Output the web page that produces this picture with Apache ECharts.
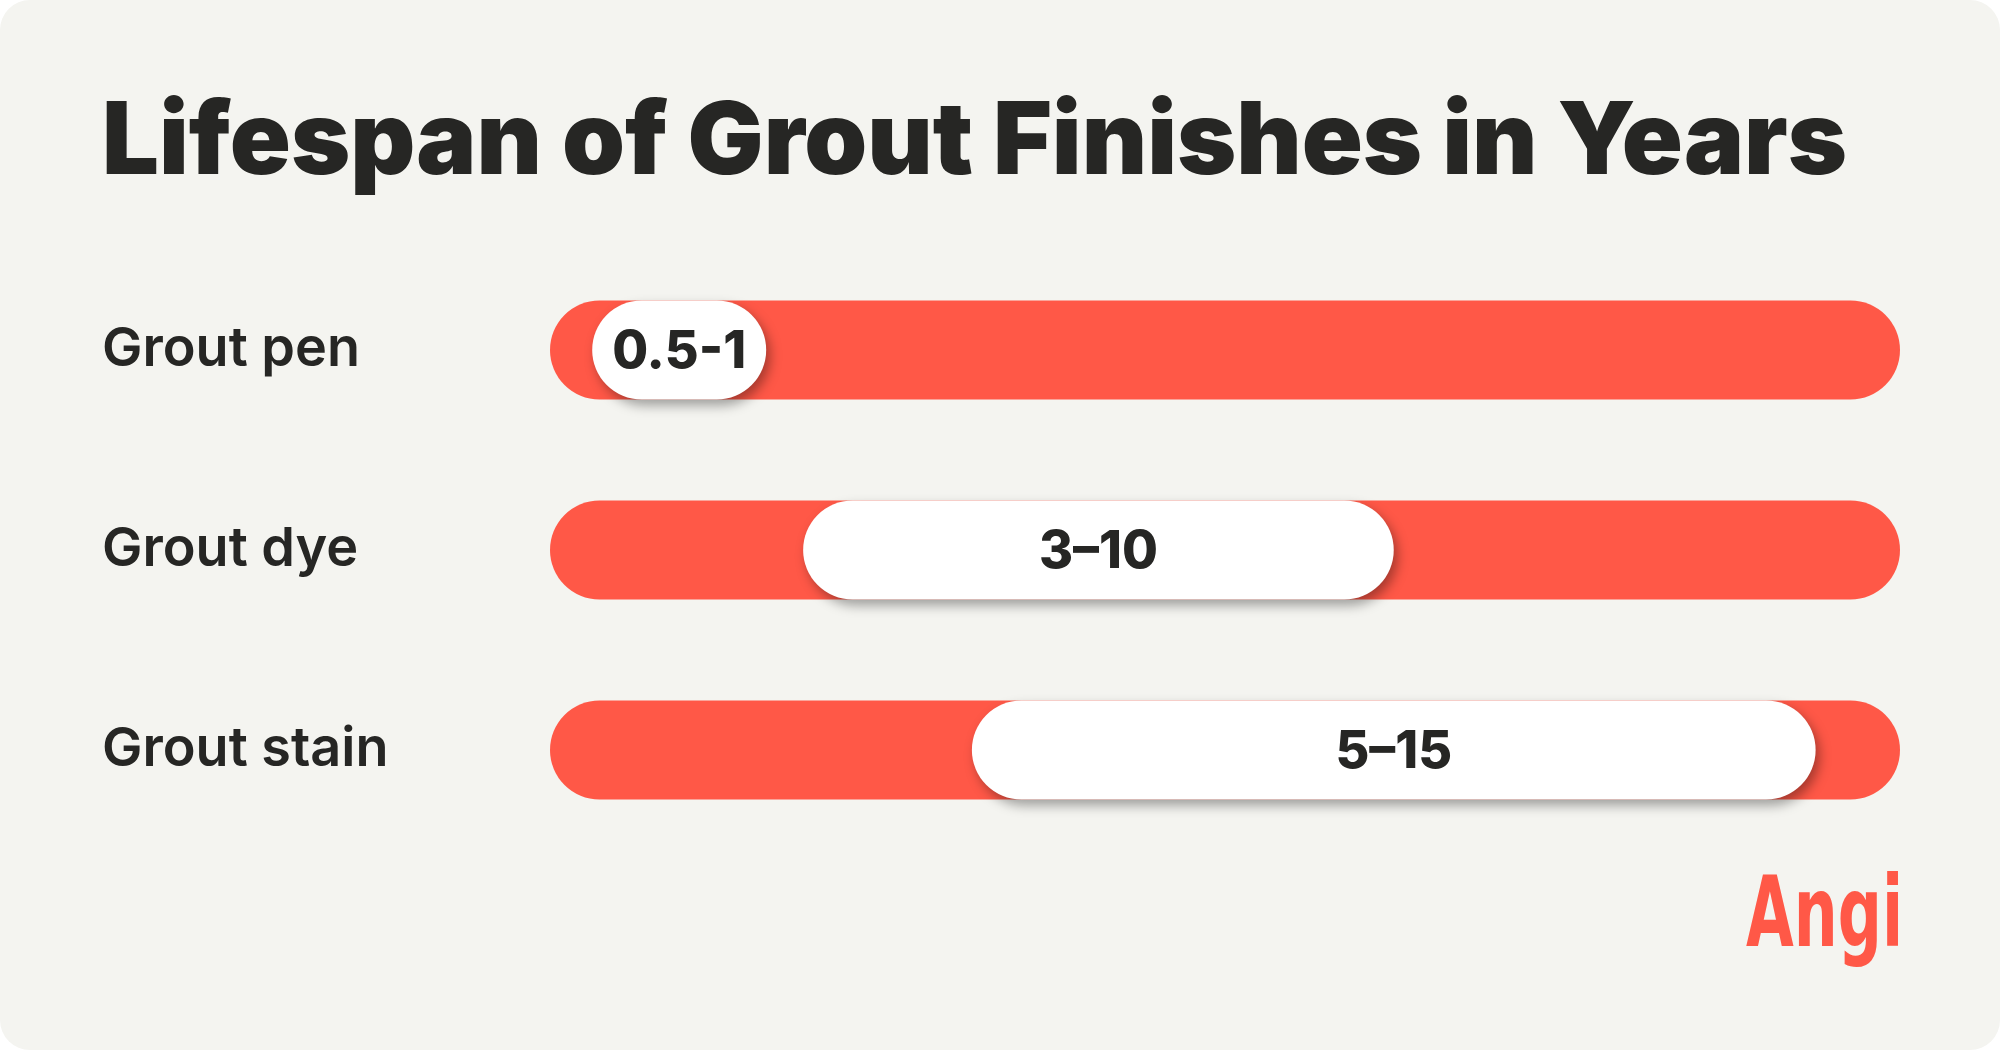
<!DOCTYPE html>
<html>
<head>
<meta charset="utf-8">
<script src="https://cdn.jsdelivr.net/npm/echarts@6/dist/echarts.min.js"></script>
<style>
html,body{margin:0;padding:0;background:#ffffff;}
#chart{width:2000px;height:1050px;}
</style>
</head>
<body>
<div id="chart"></div>
<script>
// ---- data ----
const categories = ['Grout pen', 'Grout dye', 'Grout stain'];
const lowValues = [0.5, 3, 5];
const highValues = [1, 10, 15];
const rangeLabels = ['0.5-1', '3–10', '5–15'];
const axisMax = 16;

const RED = '#FF5847';
const DARK = '#262624';
const BG = '#F4F4F0';

const chart = echarts.init(document.getElementById('chart'));

const seriesData = categories.map((c, i) => [lowValues[i], highValues[i], i]);

const option = {
  backgroundColor: 'transparent',
  animation: false,
  graphic: [
    { type: 'rect', z: -10, shape: { x: 0, y: 0, width: 2000, height: 1050, r: 30 }, style: { fill: BG } },
    { type: 'text', left: 102, top: 93, style: { text: 'Lifespan of Grout Finishes in Years', font: '900 100.8px Inter', fill: DARK } },
    { type: 'text', x: 1746, y: 872, scaleX: 0.63, style: { text: 'Angi', font: 'bold 98px "DejaVu Sans"', fill: RED, align: 'left', verticalAlign: 'top' } }
  ],
  grid: { left: 550, right: 100, top: 250, bottom: 200 },
  xAxis: { type: 'value', min: 0, max: axisMax, show: false },
  yAxis: {
    type: 'category', data: categories, inverse: true,
    axisLine: { show: false }, axisTick: { show: false }, splitLine: { show: false },
    axisLabel: { align: 'left', margin: 448, fontFamily: 'Inter', fontWeight: 600, fontSize: 54, color: DARK, padding: [8, 0, 0, 0] }
  },
  series: [{
    type: 'custom',
    data: seriesData,
    encode: { x: [0, 1], y: 2 },
    renderItem: function (params, api) {
      const idx = api.value(2);
      const h = 99;
      const t0 = api.coord([0, idx]);
      const t1 = api.coord([axisMax, idx]);
      const p0 = api.coord([api.value(0), idx]);
      const p1 = api.coord([api.value(1), idx]);
      const cy = t0[1];
      let w = Math.max(p1[0] - p0[0], 174);
      const x0 = p0[0];
      return {
        type: 'group',
        children: [
          { type: 'rect', shape: { x: t0[0], y: cy - h / 2, width: t1[0] - t0[0], height: h, r: h / 2 }, style: { fill: RED } },
          { type: 'rect', shape: { x: x0, y: cy - h / 2, width: w, height: h, r: h / 2 },
            style: { fill: '#ffffff', shadowColor: 'rgba(0,0,0,0.35)', shadowBlur: 12, shadowOffsetX: 4, shadowOffsetY: 6 } },
          { type: 'text', x: x0 + w / 2, y: cy + 2,
            style: { text: rangeLabels[params.dataIndex], font: '800 52px Inter', fill: DARK, align: 'center', verticalAlign: 'middle' } }
        ]
      };
    }
  }]
};
chart.setOption(option);
</script>
</body>
</html>
